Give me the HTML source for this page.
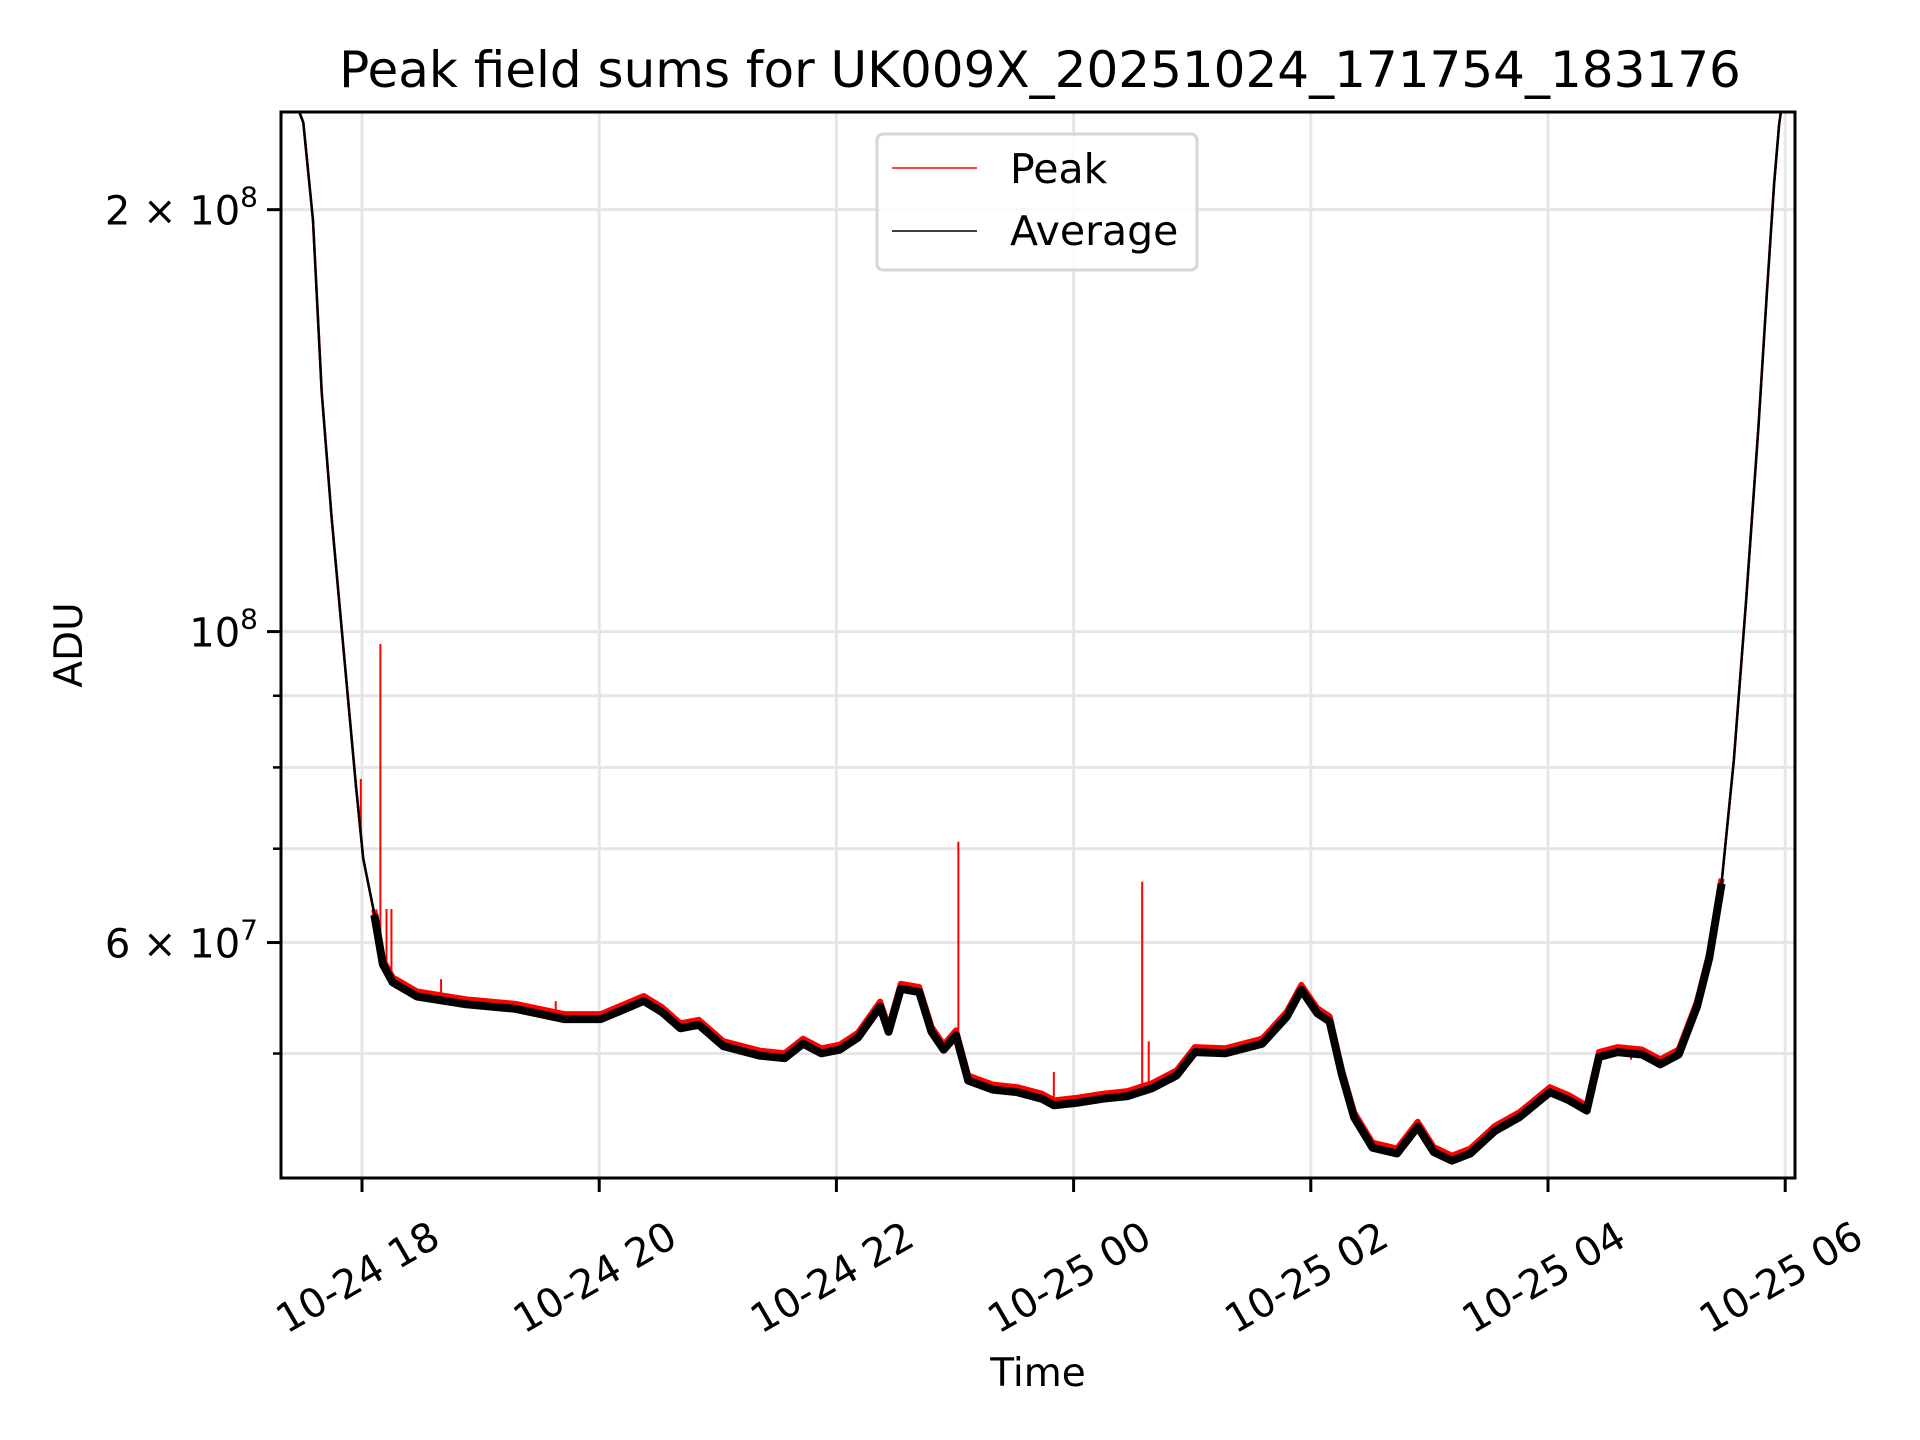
<!DOCTYPE html>
<html><head><meta charset="utf-8"><title>Peak field sums</title>
<style>html,body{margin:0;padding:0;background:#fff}svg{display:block}text{font-family:"DejaVu Sans","Liberation Sans",sans-serif;fill:#000}</style>
</head><body>
<svg id="chart" width="1920" height="1440" viewBox="0 0 1920 1440" xmlns="http://www.w3.org/2000/svg">
<rect width="1920" height="1440" fill="#fff"/>
<text x="1040" y="87" font-size="50" text-anchor="middle">Peak field sums for UK009X_20251024_171754_183176</text>
<g id="grid"></g>
<g id="plot"></g>
<g id="axes"></g>
<text x="0" y="0" font-size="39" text-anchor="middle" transform="translate(82,645) rotate(-90)">ADU</text>
<text x="1038" y="1386" font-size="39" text-anchor="middle">Time</text>
<g>
<rect x="877" y="134" width="320" height="136" rx="6" fill="#fff" fill-opacity="0.8" stroke="#d6d6d6" stroke-width="3"/>
<line x1="892" y1="168" x2="977" y2="168" stroke="#f00" stroke-width="1.5"/>
<text x="1010" y="183" font-size="41">Peak</text>
<line x1="892" y1="231" x2="977" y2="231" stroke="#000" stroke-width="1.5"/>
<text x="1010" y="245" font-size="41">Average</text>
</g>
</svg>
<script>
// time in minutes from 2025-10-24 18:00; values in 1e6 ADU
const avgTimes = [-44,-39,-29.7,-24.8,-20.4,-15.5,-9.3,-3.1,0.6,6.2,10.5,15.5,27.9,52.7,77.5,102.2,120.8,133.2,142.5,151.8,161.1,170.4,182.8,201.4,213.8,223.1,232.4,241.6,250.9,262.1,266.4,272.6,281.9,288.1,294.3,300.5,306.7,319.1,331.5,343.9,350.1,362.5,374.9,387.3,399.6,412.0,421.3,436.8,455.4,467.8,475.2,483.3,489.5,495.7,501.9,511.2,523.6,534.1,542.2,551.4,560.7,573.1,585.5,601.0,610.3,619.6,625.8,635.1,647.5,656.8,666.1,675.4,681.6,687.8,694.0,700.2,706.4,710.7,714.4,716.9,720.6,724];
const avgValues = [250,250,230.8,196.5,148.2,121.1,97.0,77.7,68.9,62.9,58.0,56.3,55.0,54.3,53.9,53.0,53.0,53.9,54.6,53.6,52.2,52.5,50.7,49.9,49.7,50.9,50.1,50.4,51.4,54.1,51.9,55.7,55.4,51.9,50.4,51.6,47.9,47.2,47.0,46.5,46.0,46.2,46.5,46.7,47.3,48.3,50.2,50.1,50.9,53.2,55.6,53.5,52.8,48.4,45.1,42.9,42.5,44.4,42.6,42.0,42.5,44.1,45.1,47.0,46.4,45.6,49.8,50.2,50.0,49.2,50.0,54.1,58.6,66.2,80.9,105.2,139.5,174.1,208.6,230,250,250];
const spikeTimes = [-0.6,9.3,12.4,14.9,40,98,301.7,350,394.7,398,642];
const spikeValues = [78.5,98,63.4,63.4,56.5,54.5,70.8,48.5,66.3,51,49.5];
const xTickMinutes = [0,120,240,360,480,600,720];
const xTickLabels = ["10-24 18","10-24 20","10-24 22","10-25 00","10-25 02","10-25 04","10-25 06"];
const yMajorValues = [200,100,60];
const yMajorBase = ["2 \u00d7 10","10","6 \u00d7 10"];
const yMajorExp = ["8","8","7"];
const yMinorValues = [50,60,70,80,90,100,200];

const L=281,R=1795,T=112,B=1178;
const pxPerMin=118.6/60, x0=362;
const y1e8=631.6, pxDec=1401.6;
const X=m=>x0+m*pxPerMin;
const Y=v=>y1e8-Math.log10(v/100)*pxDec;
const NS="http://www.w3.org/2000/svg";
function mk(tag,attrs,parent){const e=document.createElementNS(NS,tag);for(const k in attrs)e.setAttribute(k,attrs[k]);parent.appendChild(e);return e;}
const grid=document.getElementById('grid'),plot=document.getElementById('plot'),axes=document.getElementById('axes');
const defs=mk('defs',{},document.getElementById('chart'));
const cp=mk('clipPath',{id:'clip'},defs);mk('rect',{x:L,y:T,width:R-L,height:B-T},cp);
plot.setAttribute('clip-path','url(#clip)');
yMinorValues.forEach(v=>{const g=mk('line',{x1:L,x2:R,y1:Y(v),y2:Y(v),stroke:'#e6e6e6','stroke-width':3},grid);


const t=mk('line',{x1:L-8,x2:L,y1:Y(v),y2:Y(v),stroke:'#000','stroke-width':2.5},axes);

});
xTickMinutes.forEach((m,i)=>{const g=mk('line',{x1:X(m),x2:X(m),y1:T,y2:B,stroke:'#e6e6e6','stroke-width':3},grid);


const t=mk('line',{x1:X(m),x2:X(m),y1:B,y2:B+14,stroke:'#000','stroke-width':3},axes);


const lb=mk('text',{x:0,y:0,'font-size':40,'text-anchor':'middle','dominant-baseline':'central',transform:`translate(${X(m)-4},1278) rotate(-30)`},axes);
lb.textContent=xTickLabels[i];

});
yMajorValues.forEach((v,i)=>{const t=mk('line',{x1:L-14,x2:L,y1:Y(v),y2:Y(v),stroke:'#000','stroke-width':3},axes);


const lb=mk('text',{x:258,y:Y(v)+15,'font-size':40,'text-anchor':'end'},axes);


const a=document.createElementNS(NS,'tspan');a.textContent=yMajorBase[i];lb.appendChild(a);
const b=document.createElementNS(NS,'tspan');b.setAttribute('dy','-18');b.setAttribute('font-size','28');b.textContent=yMajorExp[i];lb.appendChild(b);});
function pathFor(off,lo,hi){let d='',first=true;avgTimes.forEach((m,i)=>{if(m<lo||m>hi)return;d+=(first?'M':'L')+X(m).toFixed(1)+','+(Y(avgValues[i])+off).toFixed(1);first=false;});return d;}
const pkThin=mk('path',{d:pathFor(0,-100,1000),fill:'none',stroke:'#f00','stroke-width':2.5,'stroke-linejoin':'round'},plot);


const pk=mk('path',{d:pathFor(-4,6,690),fill:'none',stroke:'#f00','stroke-width':6,'stroke-linejoin':'round'},plot);


spikeTimes.forEach((m,i)=>{let j=0;while(j<avgTimes.length-1&&avgTimes[j+1]<m)j++;
const f=(m-avgTimes[j])/(avgTimes[j+1]-avgTimes[j]);const base=avgValues[j]+(avgValues[j+1]-avgValues[j])*f;
const s=mk('line',{x1:X(m),x2:X(m),y1:Y(base),y2:Y(spikeValues[i]),stroke:'#f00','stroke-width':2},plot);

});
const avThin=mk('path',{d:pathFor(0,-100,1000),fill:'none',stroke:'#000','stroke-width':2.5,'stroke-linejoin':'round'},plot);


const av=mk('path',{d:pathFor(1,6,690),fill:'none',stroke:'#000','stroke-width':8,'stroke-linejoin':'round'},plot);


const fr=mk('rect',{x:L,y:T,width:R-L,height:B-T,fill:'none',stroke:'#000','stroke-width':3},axes);


</script>
</body></html>
